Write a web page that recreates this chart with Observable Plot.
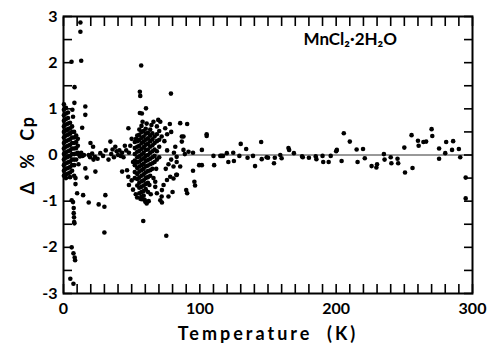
<!DOCTYPE html>
<html><head><meta charset="utf-8">
<script src="https://cdn.jsdelivr.net/npm/d3@7"></script>
<script src="https://cdn.jsdelivr.net/npm/@observablehq/plot@0.6"></script>
<style>body{margin:0;background:#fff}</style>
</head><body><div id="chart"></div>
<script>
// Low-temperature points (T in K, deviation in % Cp)
const lowT = [
[0.3,1.1],[0.3,0.98],[0.3,0.86],[0.3,0.74],[0.3,0.62],[0.3,0.5],[0.3,0.38],[0.3,0.26],[0.3,0.14],[0.3,0.02],[0.3,-0.1],[0.3,-0.22],[0.3,-0.34],[0.3,-0.45],
[1.8,1.02],[1.8,0.9],[1.8,0.78],[1.8,0.66],[1.8,0.54],[1.8,0.42],[1.8,0.3],[1.8,0.18],[1.8,0.06],[1.8,-0.06],[1.8,-0.18],[1.8,-0.3],[1.8,-0.42],[1.8,-0.5],
[3.3,0.92],[3.3,0.8],[3.3,0.68],[3.3,0.56],[3.3,0.44],[3.3,0.32],[3.3,0.2],[3.3,0.08],[3.3,-0.04],[3.3,-0.16],[3.3,-0.28],[3.3,-0.4],
[4.8,0.7],[4.8,0.58],[4.8,0.46],[4.8,0.34],[4.8,0.22],[4.8,0.1],[4.8,-0.02],[4.8,-0.14],[4.8,-0.26],[4.8,-0.38],[4.8,-0.48],
[6.3,0.62],[6.3,0.5],[6.3,0.38],[6.3,0.26],[6.3,0.14],[6.3,0.02],[6.3,-0.1],[6.3,-0.22],[6.3,-0.34],
[7.8,0.5],[7.8,0.38],[7.8,0.26],[7.8,0.14],[7.8,0.02],[7.8,-0.1],[7.8,-0.22],[7.8,-0.45],
[9.3,0.42],[9.3,0.28],[9.3,0.15],[9.3,0.03],[9.3,-0.1],
[10.5,0.35],[10.5,0.2],[10.5,0.05],
[5.9,2.02],[8.1,1.47],[12.4,2.87],[12.4,2.67],[13,2.04],[8,1.13],[16,1.05],[16,0.87],
[6.5,0.98],[7,0.83],[13.7,0.59],
[8.8,-0.5],[8.8,-0.63],[10,-0.83],[6,-0.98],[7,-1.02],[7.5,-1.15],[7.5,-1.26],
[7.7,-1.35],[7.8,-1.45],[8,-1.48],[6,-2.0],[7.3,-2.13],[8.2,-2.22],[8.5,-2.28],
[5,-2.68],[7.3,-2.79],
[11,0.02],[11,-0.2],[12,-0.03],[13,0.05],[14,-0.02],[15,0.0],
[19.8,0.26],[21.7,0.18],[18.5,0.0],[19.5,-0.05],[21,0.03],[22,-0.1],[23,-0.04],[25,-0.08],
[23.4,-0.36],[16,-0.29],[17,-0.49],[14.4,-0.87],[18.5,-1.03],[25.8,-1.07],[30,-1.12],
[30.7,-0.87],[30,-1.68],[34.4,0.29],[27,0.04],[29,-0.02],[31,0.1],[33,-0.1],[35,0.02],
[36,0.12],[37,-0.05],[38,0.18],[39,0.08],[40,0.0],[41,0.1],[42,-0.02],[43,0.05],
[43,-0.36],[46.6,-0.33],[47.6,0.58]
];
// Points around the 50-100 K region
const cluster = [
[52.3,0.28],[52.3,0.15],[52.3,0.02],[52.3,-0.12],[52.3,-0.22],[52.3,-0.37],[52.3,-0.5],
[54.1,0.42],[54.1,0.3],[54.1,0.18],[54.1,0.07],[54.1,-0.05],[54.1,-0.16],[54.1,-0.28],[54.1,-0.41],[54.1,-0.52],[54.1,-0.66],
[55.6,0.55],[55.6,0.44],[55.6,0.33],[55.6,0.2],[55.6,0.09],[55.6,-0.03],[55.6,-0.14],[55.6,-0.25],[55.6,-0.36],[55.6,-0.49],[55.6,-0.6],[55.6,-0.71],[55.6,-0.83],
[57.2,0.63],[57.2,0.5],[57.2,0.37],[57.2,0.26],[57.2,0.13],[57.2,0.01],[57.2,-0.1],[57.2,-0.22],[57.2,-0.33],[57.2,-0.45],[57.2,-0.57],[57.2,-0.69],[57.2,-0.8],[57.2,-0.9],
[58.8,0.52],[58.8,0.4],[58.8,0.29],[58.8,0.17],[58.8,0.05],[58.8,-0.07],[58.8,-0.19],[58.8,-0.3],[58.8,-0.42],[58.8,-0.55],[58.8,-0.66],[58.8,-0.78],[58.8,-0.88],
[60.3,0.57],[60.3,0.46],[60.3,0.33],[60.3,0.22],[60.3,0.11],[60.3,-0.02],[60.3,-0.13],[60.3,-0.25],[60.3,-0.38],[60.3,-0.5],[60.3,-0.63],[60.3,-0.74],
[61.9,0.48],[61.9,0.36],[61.9,0.24],[61.9,0.12],[61.9,0.0],[61.9,-0.11],[61.9,-0.23],[61.9,-0.35],[61.9,-0.48],[61.9,-0.6],
[63.6,0.55],[63.6,0.42],[63.6,0.3],[63.6,0.18],[63.6,0.05],[63.6,-0.08],[63.6,-0.2],[63.6,-0.33],[63.6,-0.45],
[65.2,0.47],[65.2,0.34],[65.2,0.21],[65.2,0.08],[65.2,-0.05],[65.2,-0.18],[65.2,-0.3],
[66.8,0.4],[66.8,0.26],[66.8,0.12],[66.8,-0.02],[66.8,-0.15],
[68.5,0.62],[68.5,0.45],[68.5,0.3],[68.5,0.08],[68.5,-0.1],
[70.2,0.52],[70.2,0.33],[70.2,0.18],[70.2,-0.05],
[53.2,0.35],[56.4,-0.95],[59.5,-0.97],[58,0.72],[61,0.68],[64.5,0.65],[66,0.72],
[45,0.2],[46,0.1],[48,0.05],[49,0.2],[50,0.35],[51,-0.15],[44,-0.05],[47.5,-0.47],
[48,-0.65],[50,-0.55],[51,-0.75],[53,-0.85],[54,-0.92],[57.6,-0.96],[60,-1.01],[61,-1.05],
[58.5,-1.43],[57,1.94],[56,1.37],[56.3,1.28],[60.5,1.01],[56,0.91],[57.5,0.9],
[69.5,0.76],[71,0.72],[74.6,0.58],[78,0.67],[79,0.5],[85.6,0.69],[90.7,0.67],
[86.8,0.4],[86.8,0.29],[82,0.18],[88,0.4],[88,0.11],[91.7,0.07],[89,0.02],[95,0.05],
[99.5,-0.22],[95,-0.34],[96,-0.58],[96.5,-0.66],[90,-0.76],[90.7,-0.83],
[82.7,-0.43],[83,-0.15],[83,-0.04],[78.8,1.33],[75.4,-1.75],[72.2,-1.03],[71,-0.98],
[67.3,-0.69],[68.5,-0.83],[72.2,-0.76],[73.4,-0.65],[75.9,-0.54],[78.3,-0.47],
[80.7,-0.51],[83.2,-0.43],[67.3,-0.58],[72,-0.9],[85.6,-0.25],[80.7,-0.25],
[75,-0.3],[77,-0.2],[79,-0.1],[81,0.05],[76,0.1],[74,0.3],[76,0.45],[72,0.4],
[68,-0.3],[66,-0.5],[63,-0.65],[62,-0.8],[62.5,-1.0],[64,-0.85],[77,-0.9],[80,-0.8]
];
// High-temperature points
const highT = [
[101.5,0.11],[101.5,-0.22],[105,0.45],[105,0.41],[110,-0.02],[110.5,-0.22],
[115,-0.02],[116,-0.02],[117,-0.02],[119.8,0.04],[120.9,-0.15],[124.5,0.05],[125,-0.13],
[129,-0.02],[130,0.24],[134,0.13],[135,-0.06],[139,-0.02],[140.5,-0.24],[145,0.28],
[145.4,-0.09],[149,-0.05],[150,-0.06],[154.4,-0.18],[155,-0.06],[159,0.0],[160,-0.07],
[165,0.15],[165.5,0.11],[169,0.04],[175,-0.03],[175.5,-0.05],[180,-0.06],[185,-0.03],
[185.5,-0.09],[190,-0.02],[190.5,-0.15],[194.5,-0.15],[196,-0.02],[200,0.08],[200.5,0.11],
[204,-0.13],[205.6,0.47],[210,0.29],[215,0.12],[215.7,-0.15],[219.7,0.13],[221,-0.07],
[226,-0.24],[229.5,-0.27],[230,-0.2],[235,0.02],[235.5,-0.1],[240,-0.05],[240.5,-0.18],
[245,-0.08],[245.5,-0.18],[250,0.16],[250.5,-0.38],[255.3,0.43],[256,-0.28],
[260,0.31],[260.5,0.2],[264,0.28],[266,0.29],[270,0.56],[270.5,0.41],[275.5,0.14],
[275.5,-0.08],[280,0.04],[280.7,0.28],[285,0.11],[285.8,0.3],[290,0.13],[291,-0.05],
[295,-0.49],[295,-0.94]
];
const xMajor = [0, 100, 200, 300];
const xMinor = [0,10,20,30,40,50,60,70,80,90,100,110,120,130,140,150,160,170,180,190,200,210,220,230,240,250,260,270,280,290,300];
const yMajor = [-3, -2, -1, 0, 1, 2, 3];
const yMinor = [-3,-2.5,-2,-1.5,-1,-0.5,0,0.5,1,1.5,2,2.5,3];
const annotation = [{t: 176, d: 2.5, label: "MnCl₂·2H₂O"}];

const points = [...lowT, ...cluster, ...highT].map(([t, d]) => ({t, d}));
const font = "Lato, 'DejaVu Sans', sans-serif";
const tickLen = 9;
const tickOpts = {tickSize: -tickLen, tickFormat: () => "", label: null, stroke: "#000", strokeWidth: 1.6};

const chart = Plot.plot({
  width: 489, height: 347,
  marginLeft: 63, marginRight: 17, marginTop: 16, marginBottom: 54,
  x: {domain: [0, 300]},
  y: {domain: [-3, 3]},
  style: {fontFamily: font, background: "white", color: "black"},
  marks: [
    Plot.ruleY([0], {stroke: "#333", strokeWidth: 1}),
    Plot.dot(points, {x: "t", y: "d", r: 2.3, fill: "black", stroke: "none"}),
    Plot.frame({stroke: "black", strokeWidth: 2}),
    Plot.axisX({anchor: "bottom", ticks: xMinor, ...tickOpts}),
    Plot.axisX({anchor: "top", ticks: xMinor, ...tickOpts}),
    Plot.axisY({anchor: "left", ticks: yMinor, ...tickOpts}),
    Plot.axisY({anchor: "right", ticks: yMinor, ...tickOpts}),
    Plot.axisX({anchor: "bottom", ticks: xMajor, tickSize: 0, tickPadding: 9, fontSize: 16, fontWeight: "bold",
      label: "Temperature  (K)", labelAnchor: "center", labelOffset: 46, labelArrow: "none"}),
    Plot.axisY({anchor: "left", ticks: yMajor, tickSize: 0, tickPadding: 6, fontSize: 16, fontWeight: "bold",
      tickFormat: d => d < 0 ? "-" + (-d) : String(d),
      label: "Δ  %  Cp", labelAnchor: "center", labelOffset: 42, labelArrow: "none"}),
    Plot.text(annotation, {x: "t", y: "d", text: "label", textAnchor: "start", fontSize: 17, fontWeight: "bold"})
  ]
});
document.getElementById("chart").append(chart);
d3.select(chart).selectAll('[aria-label="x-axis label"] text').style("font-size", "18px").style("letter-spacing", "3px");
d3.select(chart).selectAll('[aria-label="y-axis label"] text').style("font-size", "18px").style("letter-spacing", "1.5px");
</script>
</body></html>
